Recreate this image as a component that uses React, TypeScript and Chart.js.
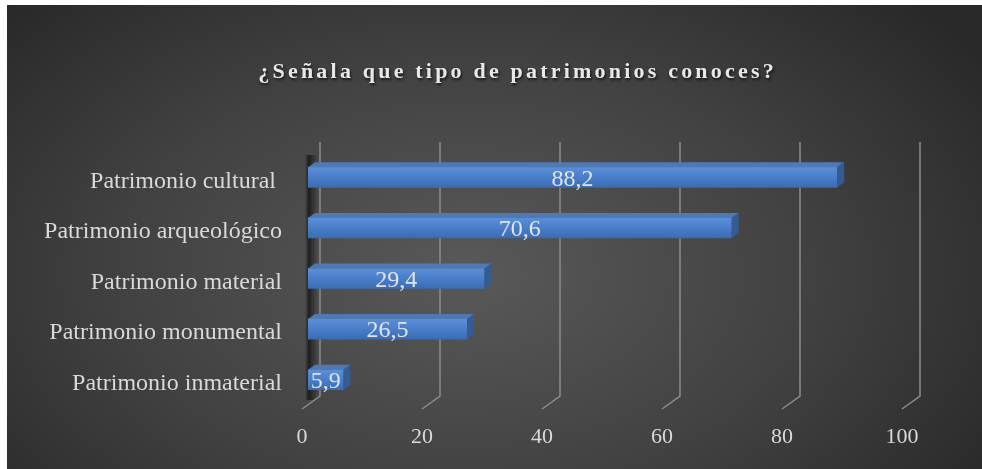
import React, { useEffect, useRef } from "react";
import { Chart, registerables } from "chart.js";

Chart.register(...registerables);

const TITLE = "¿Señala que tipo de patrimonios conoces?";
const categories = [
  "Patrimonio cultural ",
  "Patrimonio arqueológico",
  "Patrimonio material",
  "Patrimonio monumental",
  "Patrimonio inmaterial",
];
const values = [88.2, 70.6, 29.4, 26.5, 5.9];
const xMin = 0;
const xMax = 100;
const xStep = 20;

const SERIF = '"Liberation Serif", "Times New Roman", serif';
const TEXT = "#d9d9d9";
const DX = 7;
const DY = 5;

const fmt = (v: number) => String(v).replace(".", ",");

const gridPlugin = {
  id: "grid3d",
  beforeDatasetsDraw(chart: any) {
    const { ctx, chartArea } = chart;
    const xs = chart.scales.x;
    ctx.save();
    const l = chartArea.left;
    const g = ctx.createLinearGradient(l - 3, 0, l + 10, 0);
    g.addColorStop(0, "rgba(0,0,0,0)");
    g.addColorStop(0.3, "rgba(0,0,0,0.6)");
    g.addColorStop(0.5, "rgba(0,0,0,0.4)");
    g.addColorStop(1, "rgba(0,0,0,0)");
    ctx.fillStyle = g;
    ctx.fillRect(l - 3, chartArea.top + 3, 13, chartArea.bottom - chartArea.top - 8);
    ctx.strokeStyle = "#8c8c8c";
    ctx.lineWidth = 1.5;
    for (let v = xMin; v <= xMax; v += xStep) {
      const p = xs.getPixelForValue(v);
      ctx.beginPath();
      ctx.moveTo(p + 12, chartArea.top - 10);
      ctx.lineTo(p + 12, chartArea.bottom - 9);
      ctx.lineTo(p - 6, chartArea.bottom + 4);
      ctx.stroke();
    }
    ctx.restore();
  },
  afterDatasetsDraw(chart: any) {
    const { ctx } = chart;
    const meta = chart.getDatasetMeta(0);
    ctx.save();
    meta.data.forEach((bar: any, i: number) => {
      const { x, y, base, height } = bar.getProps(["x", "y", "base", "height"], true);
      const top = y - height / 2;
      const bottom = y + height / 2;
      ctx.fillStyle = "#5079b4";
      ctx.beginPath();
      ctx.moveTo(base, top);
      ctx.lineTo(x, top);
      ctx.lineTo(x + DX, top - DY);
      ctx.lineTo(base + DX, top - DY);
      ctx.closePath();
      ctx.fill();
      ctx.fillStyle = "#355b93";
      ctx.beginPath();
      ctx.moveTo(x, top);
      ctx.lineTo(x + DX, top - DY);
      ctx.lineTo(x + DX, bottom - DY);
      ctx.lineTo(x, bottom);
      ctx.closePath();
      ctx.fill();
      ctx.fillStyle = "#dfe4ea";
      ctx.font = `24px ${SERIF}`;
      ctx.textAlign = "center";
      ctx.textBaseline = "middle";
      ctx.fillText(fmt(values[i]), (base + x) / 2, y + 2);
    });
    ctx.restore();
  },
  afterDraw(chart: any) {
    const { ctx } = chart;
    ctx.save();
    ctx.font = `bold 22px ${SERIF}`;
    (ctx as any).letterSpacing = "3.2px";
    ctx.textAlign = "left";
    ctx.textBaseline = "alphabetic";
    const w = ctx.measureText(TITLE).width - 3.2;
    ctx.shadowColor = "rgba(0,0,0,0.7)";
    ctx.shadowBlur = 3;
    ctx.shadowOffsetX = 1;
    ctx.shadowOffsetY = 2;
    ctx.fillStyle = "#e8e8e8";
    ctx.fillText(TITLE, 509 - w / 2, 73);
    ctx.restore();
  },
};

export default function App() {
  const ref = useRef<HTMLCanvasElement>(null);
  useEffect(() => {
    if (!ref.current) return;
    const chart = new Chart(ref.current, {
      type: "bar",
      data: {
        labels: categories,
        datasets: [
          {
            data: values,
            barThickness: 20,
            backgroundColor: (c: any) => {
              const ch = c.chart;
              const ys = ch.scales && ch.scales.y;
              if (!ys || c.dataIndex === undefined) return "#4a7ec6";
              const yc = ys.getPixelForValue(c.dataIndex);
              if (!isFinite(yc)) return "#4a7ec6";
              const gr = ch.ctx.createLinearGradient(0, yc - 10, 0, yc + 10);
              gr.addColorStop(0, "#5a8ed6");
              gr.addColorStop(0.5, "#4a7ec8");
              gr.addColorStop(1, "#3a6cb4");
              return gr;
            },
            borderWidth: 0,
          },
        ],
      },
      options: {
        indexAxis: "y",
        animation: false,
        responsive: false,
        maintainAspectRatio: false,
        layout: { padding: { top: 147, right: 74, left: 0, bottom: 0 } },
        plugins: {
          legend: { display: false },
          title: { display: false },
          tooltip: { enabled: false },
        },
        scales: {
          x: {
            min: xMin,
            max: xMax,
            ticks: {
              stepSize: xStep,
              color: TEXT,
              font: { family: SERIF, size: 22 },
              labelOffset: -6,
              padding: 19,
              maxRotation: 0,
            },
            grid: { display: false, drawTicks: false },
            border: { display: false },
            afterFit: (s: any) => {
              s.height = 64;
            },
          },
          y: {
            ticks: {
              color: TEXT,
              font: { family: SERIF, size: 24 },
              padding: 26,
              labelOffset: 4,
            },
            grid: { display: false, drawTicks: false },
            border: { display: false },
            afterFit: (s: any) => {
              s.width = 301;
            },
          },
        },
      },
      plugins: [gridPlugin],
    } as any);
    return () => chart.destroy();
  }, []);

  return (
    <div
      style={{
        position: "fixed",
        left: 7,
        top: 5,
        width: 975,
        height: 464,
        background:
          "radial-gradient(ellipse 65% 85% at 47% 58%, #595959 0%, #414141 55%, #282828 100%)",
      }}
    >
      <canvas ref={ref} width={975} height={464} style={{ display: "block", width: 975, height: 464 }} />
    </div>
  );
}
